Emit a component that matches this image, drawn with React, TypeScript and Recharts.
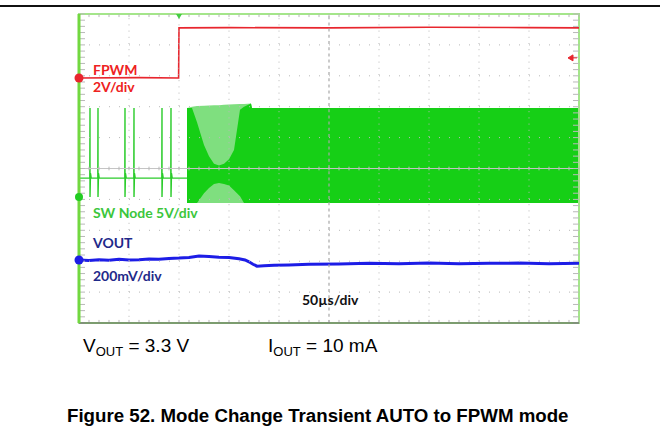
import React from 'react';
import {
  ComposedChart,
  Line,
  Area,
  XAxis,
  YAxis,
  ReferenceLine,
  ReferenceDot,
  ReferenceArea
} from 'recharts';

// scope capture: x = time in µs (50 µs/div, 10 div), y = screen divisions (0 bottom .. 10 top)
const gridTimes = [50, 100, 150, 200, 300, 350, 400, 450];
const gridLevels = [1, 2, 3, 4, 6, 7, 8, 9];

// FPWM (red, 2V/div)
const fpwmTimes = [0, 60, 99.6, 100, 150, 250, 350, 450, 500];
const fpwmLevels = [7.93, 7.94, 7.93, 9.55, 9.56, 9.55, 9.57, 9.56, 9.55];

// SW node (green, 5V/div) - single pulses in AUTO mode
const swSpikeTimes = [11, 19, 46, 55, 83, 92];
const swBaseLevel = 4.69;
const swSpikeHigh = 6.96;
const swSpikeLow = 4.08;

// SW node burst envelope once FPWM kicks in
const swBurstTimes = [108, 113, 118, 125, 130, 135, 140, 145, 150, 155, 161, 165, 172, 173, 500];
const swEnvHigh = [6.96, 7.0, 7.02, 7.03, 7.04, 7.05, 7.05, 7.06, 7.07, 7.08, 7.09, 7.09, 7.1, 6.96, 6.96];
const swEnvLow = [3.88, 3.88, 3.88, 3.88, 3.88, 3.88, 3.88, 3.88, 3.88, 3.88, 3.88, 3.88, 3.88, 3.88, 3.88];
const swCoreHigh = [6.96, 6.96, 6.5, 5.76, 5.4, 5.15, 5.1, 5.15, 5.3, 5.6, 6.9, 7.0, 7.1, 6.96, 6.96];
const swCoreLow = [3.88, 3.88, 3.88, 4.2, 4.37, 4.5, 4.53, 4.5, 4.45, 4.3, 4.1, 3.88, 3.88, 3.88, 3.88];

// VOUT (blue, 200mV/div)
const voutTimes = [0, 10, 20, 30, 40, 50, 60, 70, 80, 90, 100, 110, 120, 130, 140, 150, 160, 166, 170, 174, 178, 185, 195, 210, 230, 260, 290, 320, 350, 380, 410, 440, 470, 500];
const voutLevels = [2.04, 2.02, 2.05, 2.03, 2.06, 2.04, 2.05, 2.07, 2.06, 2.09, 2.1, 2.12, 2.17, 2.15, 2.13, 2.12, 2.08, 2.04, 1.98, 1.9, 1.84, 1.85, 1.87, 1.88, 1.9, 1.91, 1.93, 1.92, 1.94, 1.92, 1.93, 1.94, 1.92, 1.93];

const fpwmData = fpwmTimes.map((t, i) => ({ t, v: fpwmLevels[i] }));
const voutData = voutTimes.map((t, i) => ({ t, v: voutLevels[i] }));
const swEnvData = swBurstTimes.map((t, i) => ({ t, r: [swEnvLow[i], swEnvHigh[i]] }));
const swCoreData = swBurstTimes.map((t, i) => ({ t, r: [swCoreLow[i], swCoreHigh[i]] }));

const swSpikeData = [
  { t: 0, v: swBaseLevel },
  ...swSpikeTimes.flatMap(t => [
    { t: t - 0.2, v: swBaseLevel },
    { t: t, v: swSpikeHigh },
    { t: t, v: swSpikeLow },
    { t: t + 0.5, v: swBaseLevel + 0.15 },
    { t: t + 1.2, v: swBaseLevel }
  ]),
  { t: 108, v: swBaseLevel }
];

const minorTimes = Array.from({ length: 51 }, (_, i) => i * 10);
const minorLevels = Array.from({ length: 51 }, (_, i) => i * 0.2);

const gridColor = '#b9b9b9';

const App = () => {
  return (
    <div style={{ position: 'absolute', left: 0, top: 0, width: 663, height: 448, background: '#fff' }}>
      <div style={{ position: 'absolute', left: 0, top: 5, width: 660, height: 2, background: '#111' }} />
      <div style={{ position: 'absolute', left: 0, top: 0 }}>
        <ComposedChart width={663} height={448} margin={{ top: 14, left: 79, right: 84, bottom: 125 }}>
          <XAxis type="number" dataKey="t" domain={[0, 500]} hide allowDataOverflow />
          <YAxis type="number" domain={[0, 10]} hide allowDataOverflow />

          <Area data={swEnvData} dataKey="r" type="linear" stroke="none" fill="#7fdf7f" fillOpacity={1} isAnimationActive={false} />
          <Area data={swCoreData} dataKey="r" type="linear" stroke="none" fill="#16cf16" fillOpacity={1} isAnimationActive={false} />
          <Line data={swSpikeData} dataKey="v" type="linear" stroke="#2bcc2b" strokeWidth={1.4} dot={false} isAnimationActive={false} />
          <Line data={fpwmData} dataKey="v" type="linear" stroke="#e8262e" strokeWidth={1.6} dot={false} isAnimationActive={false} />
          <Line data={voutData} dataKey="v" type="linear" stroke="#1d1de6" strokeWidth={3} dot={false} isAnimationActive={false} />

          {gridTimes.map(t => (
            <ReferenceLine key={'gx' + t} x={t} stroke={gridColor} strokeDasharray="1 5.2" />
          ))}
          {gridLevels.map(v => (
            <ReferenceLine key={'gy' + v} y={v} stroke={gridColor} strokeDasharray="1 9" />
          ))}
          <ReferenceLine x={250} stroke="#a8a8a8" strokeWidth={1.2} strokeDasharray="3 3.2" />
          <ReferenceLine y={5} stroke="#c4c4c4" strokeWidth={1.2} />

          {minorTimes.map(t => (
            <ReferenceLine key={'mt' + t} segment={[{ x: t, y: 10 }, { x: t, y: 9.9 }]} stroke={gridColor} />
          ))}
          {minorTimes.map(t => (
            <ReferenceLine key={'mb' + t} segment={[{ x: t, y: 0 }, { x: t, y: 0.1 }]} stroke={gridColor} />
          ))}
          {minorTimes.map(t => (
            <ReferenceLine key={'mc' + t} segment={[{ x: t, y: 4.94 }, { x: t, y: 5.06 }]} stroke={gridColor} />
          ))}
          {minorLevels.map(v => (
            <ReferenceLine key={'ml' + v} segment={[{ x: 0, y: v }, { x: 6, y: v }]} stroke={gridColor} />
          ))}
          {minorLevels.map(v => (
            <ReferenceLine key={'mr' + v} segment={[{ x: 494, y: v }, { x: 500, y: v }]} stroke={gridColor} />
          ))}

          <ReferenceArea x1={0} x2={500} y1={0} y2={10} fill="none" stroke="#a4e68a" strokeWidth={2} />
          <ReferenceLine y={0} stroke="#555" strokeWidth={1.2} />
          <ReferenceLine x={0} stroke="#72d840" strokeWidth={3} />

          <ReferenceDot x={0} y={7.93} r={4.5} fill="#e8262e" stroke="none" />
          <ReferenceDot x={0} y={4.08} r={4} fill="#22cc22" stroke="none" />
          <ReferenceDot x={0} y={2.04} r={4.5} fill="#1d1de6" stroke="none" />
          <ReferenceDot
            x={492}
            y={8.58}
            r={3}
            shape={(p: any) => <path d={`M${p.cx - 3},${p.cy} l5,-3 l0,6 z M${p.cx},${p.cy} h6`} fill="#e8262e" stroke="#e8262e" strokeWidth={1} />}
          />
          <ReferenceDot
            x={100}
            y={10}
            r={3}
            shape={(p: any) => <path d={`M${p.cx - 3},${p.cy} h6 l-3,5 z`} fill="#44cc44" />}
          />
        </ComposedChart>
      </div>

      <svg width={663} height={448} style={{ position: 'absolute', left: 0, top: 0, pointerEvents: 'none' }}>
        <g fontFamily="Lato, sans-serif" fontWeight={700} fontSize={14}>
          <text x={93} y={75} fill="#ee2222">FPWM</text>
          <text x={93} y={92} fill="#ee2222">2V/div</text>
          <text x={93} y={218} fill="#3cc63c">SW Node 5V/div</text>
          <text x={93} y={248} fill="#1f2a8a">VOUT</text>
          <text x={93} y={281} fill="#1f2a8a">200mV/div</text>
          <text x={302} y={305} fill="#111">50µs/div</text>
        </g>
        <g fontFamily="'Liberation Sans', Arial, sans-serif" fill="#000">
          <text x={83} y={352} fontSize={19}>
            V<tspan fontSize={13} dy={4}>OUT</tspan><tspan dy={-4}> = 3.3 V</tspan>
          </text>
          <text x={268} y={352} fontSize={19}>
            I<tspan fontSize={13} dy={4}>OUT</tspan><tspan dy={-4}> = 10 mA</tspan>
          </text>
          <text x={67} y={422} fontSize={18.7} fontWeight={700}>
            Figure 52. Mode Change Transient AUTO to FPWM mode
          </text>
        </g>
      </svg>
    </div>
  );
};

export default App;
